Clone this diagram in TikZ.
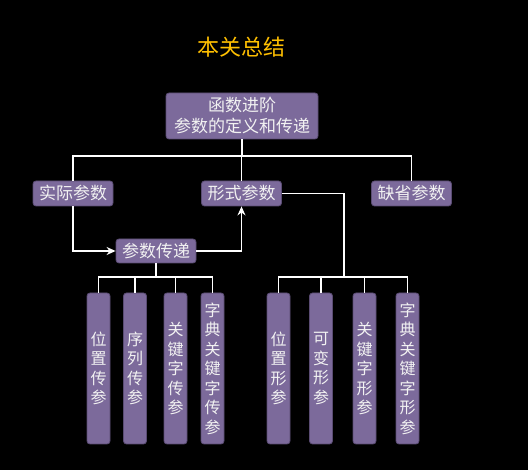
\documentclass[tikz,border=0pt]{standalone}
\usepackage{fontspec}
\setmainfont{Noto Sans CJK SC}
\usetikzlibrary{arrows.meta}
\definecolor{boxfill}{HTML}{7C6A9B}
\definecolor{boxline}{HTML}{5A4C73}
\definecolor{boxtext}{HTML}{F2F2F2}
\definecolor{titlecol}{HTML}{FFC000}
\begin{document}
\begin{tikzpicture}[x=1pt,y=-1pt,
  box/.style={fill=boxfill, draw=boxline, rounded corners=3pt, text=boxtext, inner sep=0pt, line width=0.8pt},
  hbox/.style={box, minimum width=80pt, minimum height=25pt, font=\fontsize{17}{21}\selectfont},
  vbox/.style={box, minimum width=23pt, minimum height=151pt, align=center, font=\fontsize{16}{19.5}\selectfont},
  conn/.style={draw=white, line width=1.4pt},
  arr/.style={conn, -{Stealth[length=9pt,width=8pt]}}]
\fill[black] (0,0) rectangle (528,470);
\node[text=titlecol, font=\fontsize{22}{26}\selectfont] (title) at (241,47) {本关总结};
\node[box, minimum width=152pt, minimum height=46pt, align=center, font=\fontsize{17}{21}\selectfont] (root) at (242,116) {函数进阶\\参数的定义和传递};
\node[hbox] (shiji) at (73,193.5) {实际参数};
\node[hbox] (xingshi) at (241.5,193.5) {形式参数};
\node[hbox] (queshe) at (411.5,193.5) {缺省参数};
\node[hbox, minimum height=24pt] (chuandi) at (156,251) {参数传递};
\node[vbox] (l1) at (98.5,368.5) {位\\置\\传\\参};
\node[vbox] (l2) at (135,368.5) {序\\列\\传\\参};
\node[vbox] (l3) at (175.5,368.5) {关\\键\\字\\传\\参};
\node[vbox] (l4) at (212.5,368.5) {字\\典\\关\\键\\字\\传\\参};
\node[vbox] (r1) at (278.5,368.5) {位\\置\\形\\参};
\node[vbox] (r2) at (321,368.5) {可\\变\\形\\参};
\node[vbox] (r3) at (364.5,368.5) {关\\键\\字\\形\\参};
\node[vbox] (r4) at (407.5,368.5) {字\\典\\关\\键\\字\\形\\参};
\coordinate (bus1) at (242,156);
\coordinate (rj) at (344,277);
% top bus
\draw[conn] (root.south) -- (root.south |- bus1);
\draw[conn] (shiji.north) |- (queshe.north |- bus1) -- (queshe.north);
\draw[conn] (xingshi.north) -- (xingshi.north |- bus1);
% arrows
\draw[arr] (shiji.south) |- (chuandi.west);
\draw[arr] (chuandi.east) -| (xingshi.south);
% xingshi to right leaves
\draw[conn] (xingshi.east) -| (rj);
\draw[conn] (r1.north) |- (r4.north |- rj) -- (r4.north);
\draw[conn] (r2.north) -- (r2.north |- rj);
\draw[conn] (r3.north) -- (r3.north |- rj);
% chuandi to left leaves
\draw[conn] (chuandi.south) -- (chuandi.south |- rj);
\draw[conn] (l1.north) |- (l4.north |- rj) -- (l4.north);
\draw[conn] (l2.north) -- (l2.north |- rj);
\draw[conn] (l3.north) -- (l3.north |- rj);
\end{tikzpicture}
\end{document}
